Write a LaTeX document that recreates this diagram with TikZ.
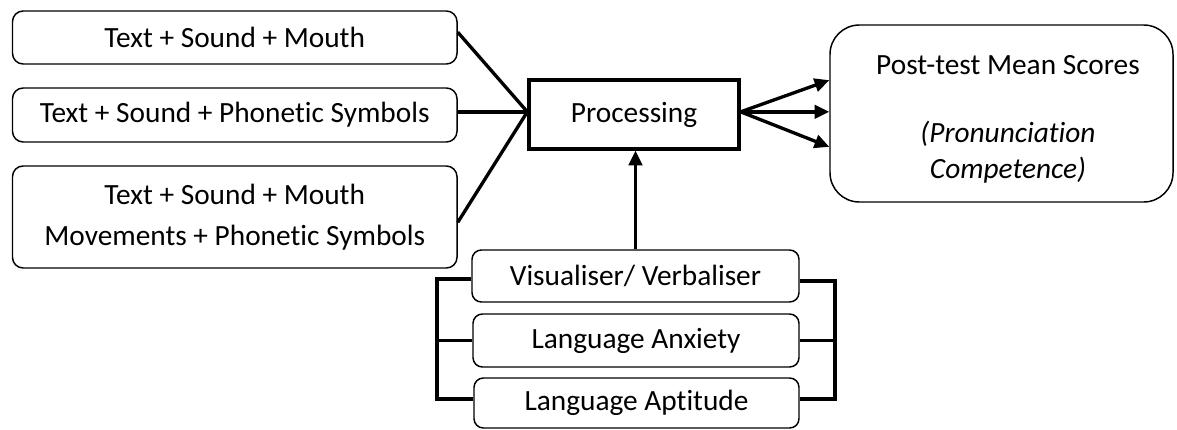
\documentclass[tikz,border=0pt]{standalone}
\usepackage{fontspec}
\setmainfont{Carlito}[Ligatures={NoCommon,NoRequired,NoContextual}]
\usetikzlibrary{calc}
\usetikzlibrary{arrows.meta}

\begin{document}
\begin{tikzpicture}[x=0.75pt,y=0.75pt,yscale=-1,xscale=1,
  inbox/.style={draw, rounded corners=8pt, line width=1.1pt, minimum width=333.4pt, inner sep=0pt, align=center, font=\fontsize{22}{30.75}\selectfont},
  factor/.style={draw, rounded corners=7pt, line width=1.1pt, inner sep=0pt, align=center, font=\fontsize{22}{26}\selectfont},
  link/.style={line width=2.5pt},
  arr/.style={line width=2.5pt, -{Triangle[length=11pt,width=10pt]}}]
\useasboundingbox (0,0) rectangle (1177,429);

%Rounded Rect (inputs)
\draw (234.75,37.5) node [inbox, minimum height=39.75pt] (sndmouth) {Text + Sound + Mouth};
\draw (234.75,115) node [inbox, minimum height=40.5pt] (sndphon) {Text + Sound + Phonetic Symbols};
\draw (234.75,217) node [inbox, minimum height=76.5pt] (sndall) {Text + Sound + Mouth\\Movements + Phonetic Symbols};

%Shape: Rectangle (processing)
\draw (634,114.5) node [draw, line width=2.5pt, minimum width=157.5pt, minimum height=51.75pt, font=\fontsize{22}{26}\selectfont] (proc) {Processing};

%Rounded Rect (outcome)
\draw (1001.5,113.5) node [draw, rounded corners=22pt, line width=1.1pt, minimum width=257.25pt, minimum height=132.75pt] (post) {};
% Text Node
\draw (1008,119) node [align=center, font=\fontsize{22}{26.5}\selectfont] (posttxt) {Post-test Mean Scores\\[25pt]\textit{(Pronunciation}\\\textit{Competence)}};

%Rounded Rect (learner factors)
\draw (635.5,276) node [factor, minimum width=245.25pt, minimum height=39pt] (vis) {Visualiser/ Verbaliser};
\draw (636,340.5) node [factor, minimum width=244.5pt, minimum height=39.75pt] (anx) {Language Anxiety};
\draw (636.5,403) node [factor, minimum width=243.75pt, minimum height=37.5pt] (apt) {Language Aptitude};

%Straight Lines into processing
\coordinate (inpt) at ([yshift=-2pt]proc.west);
\draw [link] ([yshift=-4pt]sndmouth.east) -- (inpt);
\draw [link] (sndphon.east |- inpt) -- (inpt);
\draw [link] ([yshift=4pt]sndall.east) -- (inpt);

%Straight Lines out of processing
\coordinate (outpt) at ([yshift=-2pt]proc.east);
\draw [arr] (outpt) -- ([yshift=25pt]post.west);
\draw [arr] (outpt) -- (post.west |- outpt);
\draw [arr] (outpt) -- ([yshift=-25pt]post.west);

%Vertical arrow up from factors
\draw [arr] (vis.north) -- (vis.north |- proc.south);

%Brackets
\coordinate (lb) at (437,279);
\coordinate (rb) at (835,281);
\draw [link] (vis.west |- lb) -- (lb) |- ([yshift=-3pt]apt.west);
\draw [link] (anx.west) -- (anx.west -| lb);
\draw [link] (vis.east |- rb) -- (rb) |- ([yshift=-3pt]apt.east);
\draw [link] (anx.east) -- (anx.east -| rb);

\end{tikzpicture}
\end{document}
